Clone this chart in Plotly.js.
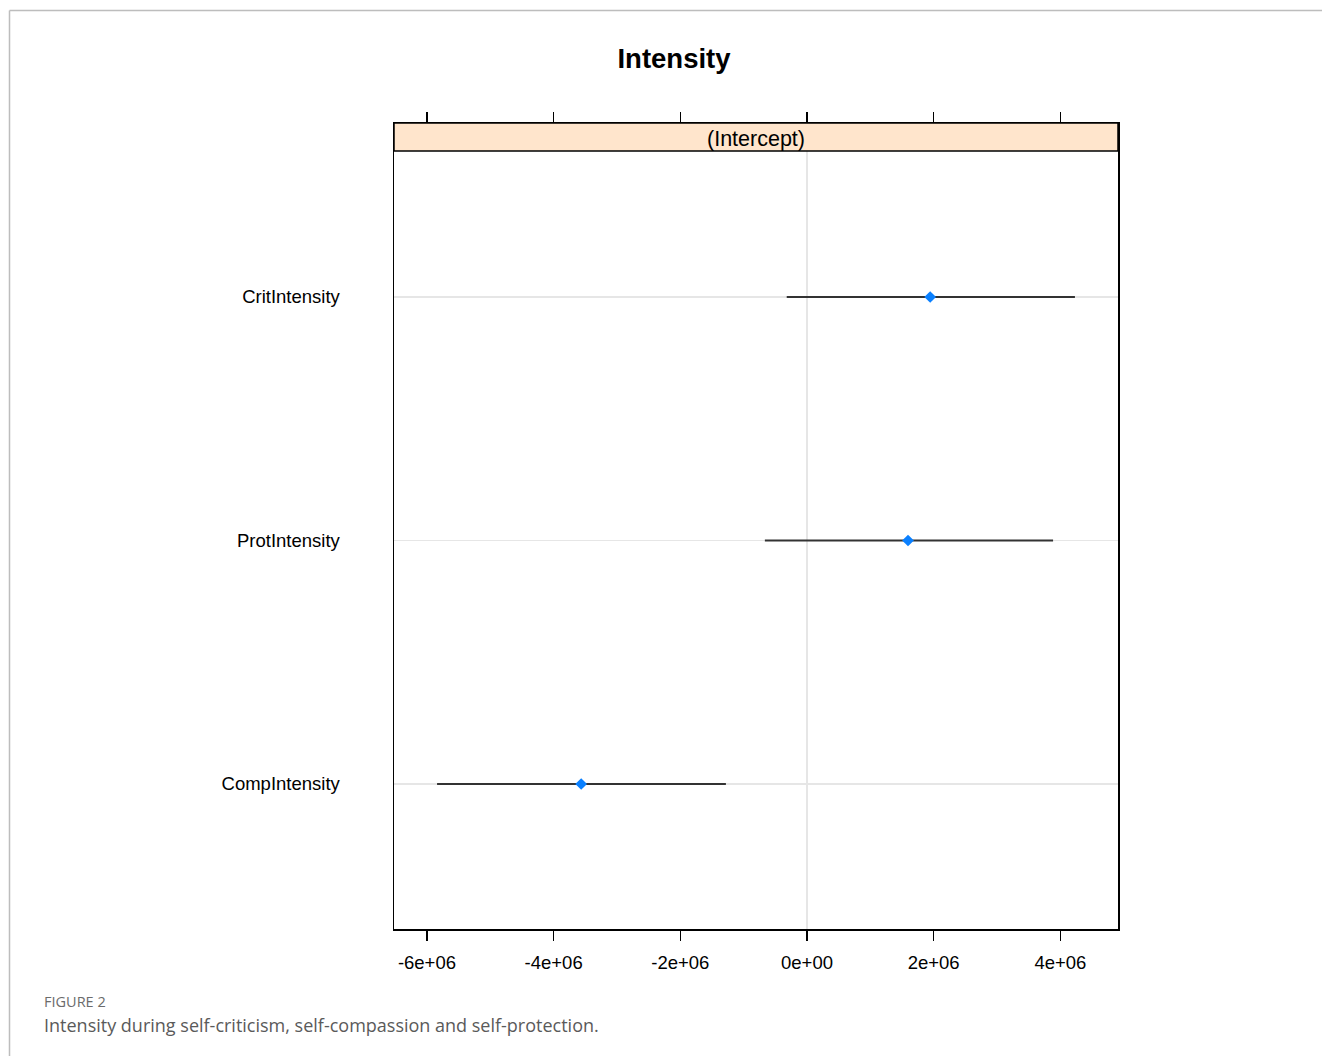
<!DOCTYPE html>
<html>
<head>
<meta charset="utf-8">
<script src="https://cdn.plot.ly/plotly-3.0.1.min.js"></script>
<style>
html,body{margin:0;padding:0;background:#fff;}
#chart{width:1322px;height:1056px;}
</style>
</head>
<body>
<div id="chart"></div>
<script>
// Data
var categories = ["CompIntensity", "ProtIntensity", "CritIntensity"];
var estimate = [-3.565e6, 1.595e6, 1.945e6];
var lower = [-5.84e6, -0.665e6, -0.32e6];
var upper = [-1.28e6, 3.885e6, 4.23e6];
var xTickVals = [-6e6, -4e6, -2e6, 0, 2e6, 4e6];
var xTickText = ["-6e+06", "-4e+06", "-2e+06", "0e+00", "2e+06", "4e+06"];
var titleText = "Intensity";
var stripText = "(Intercept)";
var figLabel = "FIGURE 2";
var captionText = "Intensity during self-criticism, self-compassion and self-protection.";

// layout geometry (pixels)
var W = 1322, H = 1056;
var L = 394, R = 1118, T = 123, B = 929;
function px(x){ return (x - L) / (R - L); }
function py(y){ return (B - y) / (B - T); }

var errPlus = upper.map(function(u,i){ return u - estimate[i]; });
var errMinus = lower.map(function(l,i){ return estimate[i] - l; });

var trace = {
  type: "scatter",
  mode: "markers",
  x: estimate,
  y: categories,
  marker: {symbol: "diamond", size: 9, color: "#0a80ff"},
  error_x: {type: "data", symmetric: false, array: errPlus, arrayminus: errMinus,
            width: 0, thickness: 2, color: "#333333"},
  hoverinfo: "x+y",
  showlegend: false
};

var font = "Liberation Sans, Arial, sans-serif";

var layout = {
  width: W, height: H,
  margin: {l: L, r: W - R, t: T, b: H - B, pad: 0},
  paper_bgcolor: "#ffffff",
  plot_bgcolor: "#ffffff",
  font: {family: font, color: "#000000", size: 18.5},
  title: {text: "<b>" + titleText + "</b>", font: {family: font, size: 27.5, color: "#000"},
          xref: "container", x: 674 / W, xanchor: "center",
          yref: "container", y: 1 - 58 / H, yanchor: "middle"},
  xaxis: {
    range: [-6.52e6, 4.91e6],
    tickvals: xTickVals, ticktext: xTickText,
    ticks: "outside", ticklen: 10, tickwidth: 1.5, tickcolor: "#000",
    showline: true, linecolor: "#000", linewidth: 1.5, mirror: "ticks",
    showgrid: false,
    zeroline: true, zerolinecolor: "#e6e6e6", zerolinewidth: 1.5,
    tickfont: {family: font, size: 18.5, color: "#000"},
    ticklabelstandoff: 6,
    fixedrange: true
  },
  yaxis: {
    type: "category",
    categoryorder: "array", categoryarray: categories,
    range: [-0.5955, 2.7146],
    showline: true, linecolor: "#000", linewidth: 1.5, mirror: true,
    showgrid: true, gridcolor: "#e6e6e6", gridwidth: 1.5,
    ticks: "", ticklabelstandoff: 49,
    tickfont: {family: font, size: 18.5, color: "#000"},
    zeroline: false,
    fixedrange: true
  },
  shapes: [
    {type: "rect", xref: "paper", yref: "paper", x0: 0, x1: 1, y0: py(151), y1: 1,
     fillcolor: "#ffe5cc", line: {color: "#000", width: 1.5}, layer: "above"},
    {type: "line", xref: "paper", yref: "paper", x0: px(9.5), x1: px(1322), y0: py(10.5), y1: py(10.5),
     line: {color: "#bdbdbd", width: 1.5}},
    {type: "line", xref: "paper", yref: "paper", x0: px(9.5), x1: px(9.5), y0: py(10.5), y1: py(1056),
     line: {color: "#bdbdbd", width: 1.5}}
  ],
  annotations: [
    {text: stripText, xref: "paper", yref: "paper", x: 0.5, y: py(138.5), xanchor: "center", yanchor: "middle",
     showarrow: false, font: {family: font, size: 21.5, color: "#000"}},
    {text: figLabel, xref: "paper", yref: "paper", x: px(41.5), y: py(1001), xanchor: "left", yanchor: "middle",
     showarrow: false, font: {family: "Open Sans, sans-serif", size: 14.5, color: "#6b6b6b"}},
    {text: captionText, xref: "paper", yref: "paper", x: px(41.5), y: py(1025), xanchor: "left", yanchor: "middle",
     showarrow: false, font: {family: "Open Sans, sans-serif", size: 18, color: "#5a5a5a"}}
  ]
};

Plotly.newPlot("chart", [trace], layout, {displayModeBar: false, staticPlot: true});
</script>
</body>
</html>
